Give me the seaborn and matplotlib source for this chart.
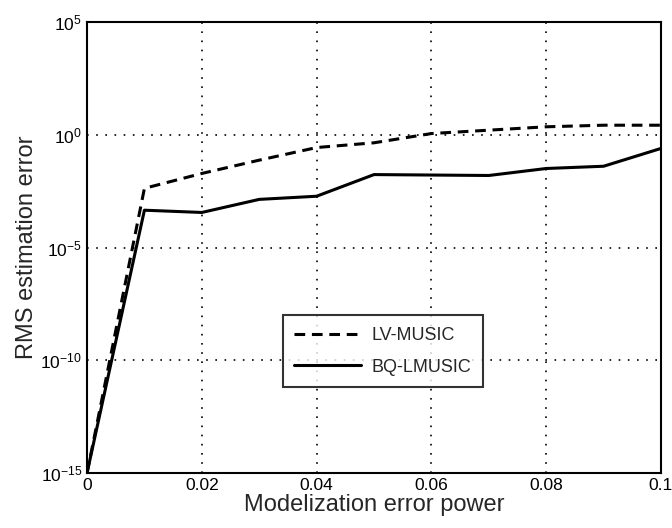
import numpy as np
import pandas as pd
import seaborn as sns
import matplotlib.pyplot as plt

# values (log10 of RMS error)
error_power = [0.0, 0.01, 0.02, 0.03, 0.04, 0.05, 0.06, 0.07, 0.08, 0.09, 0.10]
lv_music_log = [-15.0, -2.37, -1.71, -1.12, -0.56, -0.35, 0.06, 0.21, 0.36, 0.43, 0.43]
bq_lmusic_log = [-15.0, -3.34, -3.44, -2.86, -2.72, -1.76, -1.78, -1.80, -1.49, -1.39, -0.60]

methods = ["LV-MUSIC", "BQ-LMUSIC"]
x_ticks = [0, 0.02, 0.04, 0.06, 0.08, 0.1]
x_tick_labels = ["0", "0.02", "0.04", "0.06", "0.08", "0.1"]
y_ticks = [1e-15, 1e-10, 1e-5, 1e0, 1e5]

df = pd.DataFrame({
    "power": error_power * 2,
    "rms": np.power(10.0, lv_music_log + bq_lmusic_log),
    "method": [methods[0]] * len(error_power) + [methods[1]] * len(error_power),
})

sns.set_style("white")
plt.rcParams["font.family"] = ["Liberation Sans", "DejaVu Sans"]
plt.rcParams["mathtext.fontset"] = "custom"
plt.rcParams["mathtext.rm"] = "Liberation Sans"

fig = plt.figure(figsize=(6.72, 5.28), dpi=100)
ax = fig.add_axes([0.1295, 0.104, 0.8541, 0.854])

sns.lineplot(data=df, x="power", y="rms", hue="method", style="method",
             palette={"LV-MUSIC": "black", "BQ-LMUSIC": "black"},
             dashes={"LV-MUSIC": (3.5, 2.2), "BQ-LMUSIC": ""},
             linewidth=2.2, ax=ax)

ax.set_yscale("log")
ax.set_xlim(0, 0.1)
ax.set_ylim(1e-15, 1e5)
ax.set_xticks(x_ticks)
ax.set_xticklabels(x_tick_labels)
ax.set_yticks(y_ticks)
ax.minorticks_off()
ax.tick_params(direction="in", length=4, width=0.8, labelsize=12.5, colors="black")
ax.grid(True, which="major", color="black", linestyle=(0, (1, 4.5)), linewidth=1.2)
for s in ax.spines.values():
    s.set_color("black")
    s.set_linewidth(1.5)

ax.set_xlabel("Modelization error power", fontsize=17, labelpad=1)
ax.set_ylabel("RMS estimation error", fontsize=17, labelpad=2)

leg = ax.legend(title=None, loc="lower left", bbox_to_anchor=(0.325, 0.17),
                fontsize=13, frameon=True, fancybox=False, handlelength=3.7,
                borderpad=0.65, labelspacing=0.8, handletextpad=0.55)
leg.get_frame().set_edgecolor("black")
leg.get_frame().set_linewidth(1.5)
for h in leg.get_lines():
    h.set_linewidth(2.2)

fig.savefig("out.png", dpi=100)
plt.close(fig)
